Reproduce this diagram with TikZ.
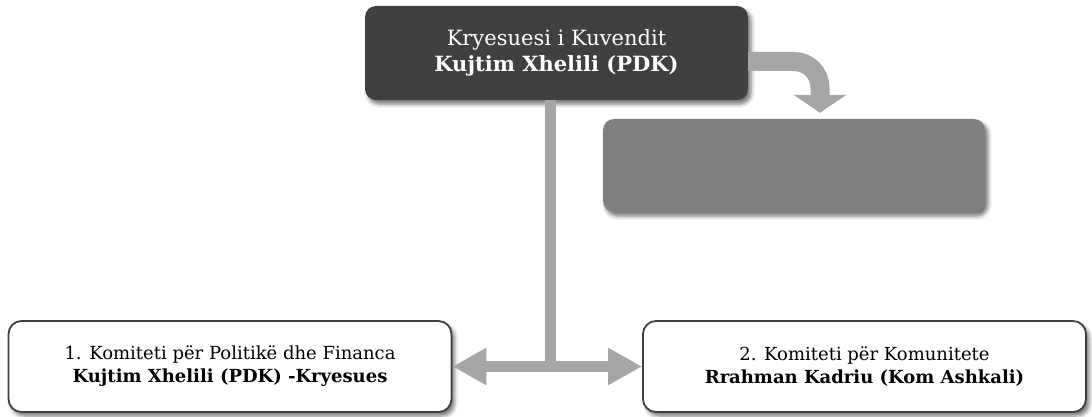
\documentclass[tikz,border=0pt]{standalone}
\usepackage{fontspec}
\setmainfont{DejaVu Serif}
\usetikzlibrary{arrows.meta,shadows.blur}
\tikzset{>=latex}
\definecolor{boxdark}{HTML}{404040}
\definecolor{boxgray}{HTML}{808080}
\definecolor{linkgray}{HTML}{A6A6A6}
\tikzset{
	softshadow/.style={blur shadow={shadow xshift=3pt, shadow yshift=-4pt, shadow blur radius=4pt, shadow opacity=55}},
	chairbox/.style={rounded corners=11pt, fill=boxdark, text=white, align=center, minimum width=383pt, minimum height=94pt, softshadow, font=\fontsize{21}{26}\selectfont},
	vicebox/.style={rounded corners=11pt, fill=boxgray, minimum width=382pt, minimum height=93pt, softshadow},
	committee/.style={rounded corners=13pt, draw=boxdark, line width=1.8pt, fill=white, align=center, minimum width=443pt, minimum height=91pt, softshadow, font=\fontsize{18}{23}\selectfont},
	link/.style={draw=linkgray}
}

\begin{document}
\begin{tikzpicture}[x=1pt, y=-1pt]
		\useasboundingbox (0,0) rectangle (1092,417);

		% Boxes
		\node[chairbox] (chair) at (556.5,53) {Kryesuesi i Kuvendit\\\textbf{Kujtim Xhelili (PDK)}};
		\node[vicebox] (vice) at (794,165.5) {};
		\node[committee] (com1) at (230,366.5) {1. Komiteti për Politikë dhe Financa\\\textbf{Kujtim Xhelili (PDK) -Kryesues}};
		\node[committee] (com2) at (864.5,366.5) {2. Komiteti për Komunitete\\\textbf{Rrahman Kadriu (Kom Ashkali)}};
		\coordinate (hub) at (550.5,366.5);

		% Arrows
		\draw[link, line width=19pt, rounded corners=26pt, -{Triangle[width=52pt, length=18pt]}] ([yshift=-8.5pt]chair.east) -| ([xshift=26pt, yshift=6pt]vice.north);
		\draw[link, line width=11pt] ([xshift=-6pt]chair.south) -- (hub);
		\draw[link, line width=11pt, -{Triangle[width=35pt, length=34pt]}] (hub) -- (com1.east);
		\draw[link, line width=11pt, -{Triangle[width=35pt, length=34pt]}] (hub) -- (com2.west);
	\end{tikzpicture}
\end{document}
